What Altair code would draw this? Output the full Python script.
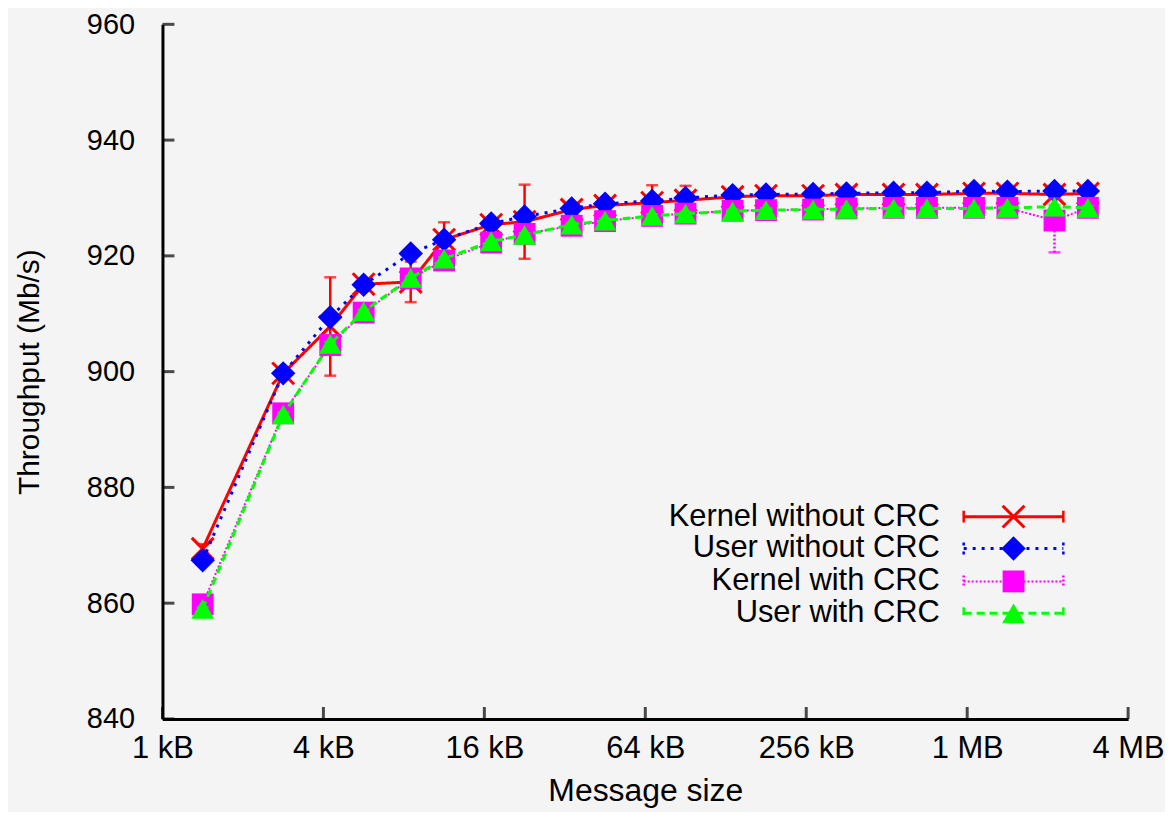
import altair as alt
import pandas as pd

# ---------------- data ----------------
sizes = [1448, 2896, 4344, 5792, 8688, 11584, 17376, 23168, 34752, 46336,
         69504, 92672, 139008, 185344, 278016, 370688, 556032, 741376,
         1112064, 1482752, 2224128, 2965504]

series_names = ["Kernel without CRC", "User without CRC", "Kernel with CRC", "User with CRC"]

kernel_nocrc = [869.4, 899.7, 907.8, 915.1, 915.5, 922.8, 925.4, 925.9, 928.0, 928.7,
                929.2, 929.6, 930.2, 930.4, 930.4, 930.6, 930.6, 930.6, 930.8, 930.8,
                930.6, 930.8]
kernel_nocrc_lo = [0.8, 0.3, 8.5, 0.4, 3.5, 3.0, 0.5, 6.4, 0.4, 0.4,
                   3.0, 2.5, 0.3, 0.3, 0.3, 0.3, 0.3, 0.3, 0.3, 0.3, 0.3, 0.3]
kernel_nocrc_hi = [0.8, 0.3, 8.5, 0.4, 3.5, 3.0, 0.5, 6.4, 0.4, 0.4,
                   3.0, 2.5, 0.3, 0.3, 0.3, 0.3, 0.3, 0.3, 0.3, 0.3, 0.3, 0.3]

user_nocrc = [867.4, 899.7, 909.4, 915.0, 920.4, 922.8, 925.6, 926.8, 928.2, 929.0,
              929.5, 930.0, 930.5, 930.6, 930.7, 930.8, 930.9, 930.9, 931.2, 931.1,
              931.2, 931.2]
user_nocrc_lo = [0.3] * 22
user_nocrc_hi = [0.3] * 22

kernel_crc = [859.8, 892.8, 904.6, 910.2, 916.1, 919.2, 922.3, 923.8, 925.2, 926.0,
              926.9, 927.3, 927.8, 927.9, 928.0, 928.2, 928.3, 928.3, 928.3, 928.3,
              926.1, 928.3]
kernel_crc_lo = [0.3] * 20 + [5.5, 0.3]
kernel_crc_hi = [0.3] * 20 + [3.8, 0.3]

user_crc = [859.0, 892.6, 904.8, 910.4, 916.2, 919.5, 922.5, 923.6, 925.4, 926.1,
            926.9, 927.3, 927.7, 927.9, 928.0, 928.1, 928.2, 928.2, 928.2, 928.3,
            928.5, 928.3]
user_crc_lo = [0.3] * 22
user_crc_hi = [0.3] * 22

x_tick_values = [1024, 4096, 16384, 65536, 262144, 1048576, 4194304]
x_tick_labels = ["1 kB", "4 kB", "16 kB", "64 kB", "256 kB", "1 MB", "4 MB"]
y_tick_values = [840, 860, 880, 900, 920, 940, 960]

# ---------------- build tables ----------------
vals = [kernel_nocrc, user_nocrc, kernel_crc, user_crc]
los = [kernel_nocrc_lo, user_nocrc_lo, kernel_crc_lo, user_crc_lo]
his = [kernel_nocrc_hi, user_nocrc_hi, kernel_crc_hi, user_crc_hi]
rows = []
for name, v, lo, hi in zip(series_names, vals, los, his):
    for s, y, a, b in zip(sizes, v, lo, hi):
        rows.append({"series": name, "size": s, "value": y, "low": y - a, "high": y + b})
df = pd.DataFrame(rows)

W, H = 969, 697
FONT = "Liberation Sans"

label_expr = ""
for v, l in zip(x_tick_values, x_tick_labels):
    label_expr += f"datum.value == {v} ? '{l}' : "
label_expr += "''"

x_scale = alt.Scale(type="log", base=2, domain=[1024, 4194304], nice=False)
y_scale = alt.Scale(domain=[840, 960], nice=False, zero=False)

x_axis = alt.Axis(values=x_tick_values, labelExpr=label_expr, ticks=False, grid=False,
                  domainColor="black", domainWidth=3, labelFont=FONT, labelFontSize=31,
                  labelColor="black", labelPadding=15, title="Message size",
                  titleFont=FONT, titleFontSize=32, titleFontWeight="normal",
                  titleColor="black", titlePadding=12, labelFlush=False)
y_axis = alt.Axis(values=y_tick_values, ticks=False, grid=False, domainColor="black",
                  domainWidth=3, labelFont=FONT, labelFontSize=29, labelColor="black",
                  labelPadding=28, title="Throughput (Mb/s)", titleFont=FONT,
                  titleFontSize=30, titleFontWeight="normal", titleColor="black",
                  titlePadding=42, labelFlush=False)

X = alt.X("size:Q", scale=x_scale, axis=x_axis)
Y = alt.Y("value:Q", scale=y_scale, axis=y_axis)
YLO = alt.Y("low:Q", scale=y_scale, axis=y_axis)
YHI = alt.Y("high:Q", scale=y_scale, axis=y_axis)

styles = [
    dict(color="#ff0000", width=3, dash=[1, 0], shape="M-1,-1L1,1M1,-1L-1,1", filled=False, size=480),
    dict(color="#0000ff", width=3, dash=[3, 6], shape="diamond", filled=True, size=600),
    dict(color="#ff00ff", width=2, dash=[2, 2], shape="square", filled=True, size=480),
    dict(color="#00ff00", width=3, dash=[8, 5], shape="triangle-up", filled=True, size=520),
]
legend_rows = [494, 526, 559, 591]
legend_text_x = 780
legend_line_x = [804, 904]
legend_sym_x = 854

base = alt.Chart(df)
layers = []

# inward axis ticks
xt = pd.DataFrame({"size": x_tick_values})
yt = pd.DataFrame({"value": y_tick_values})
layers.append(alt.Chart(xt).mark_tick(orient="vertical", color="black", thickness=3, size=12)
              .encode(x=X, y=alt.value(H - 6)))
layers.append(alt.Chart(yt).mark_tick(orient="horizontal", color="black", thickness=3, size=12)
              .encode(y=Y, x=alt.value(6)))

for name, st, ly in zip(series_names, styles, legend_rows):
    sub = base.transform_filter(alt.datum.series == name)
    layers.append(sub.mark_rule(color=st["color"], strokeWidth=2.5, strokeDash=st["dash"])
                  .encode(x=X, y=YLO, y2="high:Q"))
    layers.append(sub.mark_tick(orient="horizontal", color=st["color"], thickness=2.5, size=12)
                  .encode(x=X, y=YLO))
    layers.append(sub.mark_tick(orient="horizontal", color=st["color"], thickness=2.5, size=12)
                  .encode(x=X, y=YHI))
    layers.append(sub.mark_line(color=st["color"], strokeWidth=st["width"], strokeDash=st["dash"])
                  .encode(x=X, y=Y))
    if st["filled"]:
        pt = sub.mark_point(shape=st["shape"], size=st["size"], filled=True, color=st["color"],
                            opacity=1, strokeWidth=0)
    else:
        pt = sub.mark_point(shape=st["shape"], size=st["size"], filled=False, color=st["color"],
                            opacity=1, strokeWidth=3)
    layers.append(pt.encode(x=X, y=Y))

    # legend entry
    one = alt.Chart(pd.DataFrame({"series": [name]}))
    layers.append(one.mark_text(align="right", baseline="middle", font=FONT, fontSize=31,
                                color="black").encode(text="series:N", x=alt.value(legend_text_x),
                                                      y=alt.value(ly)))
    layers.append(one.mark_rule(color=st["color"], strokeWidth=st["width"], strokeDash=st["dash"])
                  .encode(x=alt.value(legend_line_x[0]), x2=alt.value(legend_line_x[1]),
                          y=alt.value(ly)))
    for lx in legend_line_x:
        layers.append(one.mark_rule(color=st["color"], strokeWidth=2.5, strokeDash=st["dash"])
                      .encode(x=alt.value(lx), y=alt.value(ly - 6), y2=alt.value(ly + 6)))
    if st["filled"]:
        lp = one.mark_point(shape=st["shape"], size=st["size"], filled=True, color=st["color"],
                            opacity=1, strokeWidth=0)
    else:
        lp = one.mark_point(shape=st["shape"], size=st["size"], filled=False, color=st["color"],
                            opacity=1, strokeWidth=3)
    layers.append(lp.encode(x=alt.value(legend_sym_x), y=alt.value(ly)))

chart = alt.layer(*layers).properties(
    width=W, height=H,
    autosize=alt.AutoSizeParams(type="none"),
    padding={"left": 155, "top": 15, "right": 37, "bottom": 92},
    background="#f4f4f4",
).configure_view(strokeWidth=0)

chart.save("out.html", embed_options={"renderer": "svg", "actions": False})
